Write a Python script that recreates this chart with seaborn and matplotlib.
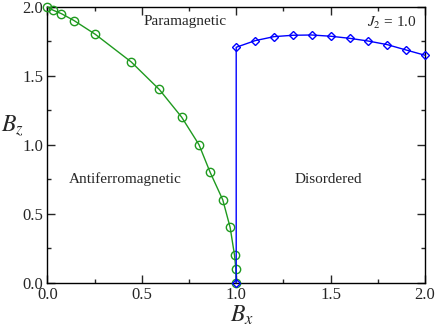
import numpy as np
import pandas as pd
import matplotlib
matplotlib.use("Agg")
import matplotlib.pyplot as plt
import seaborn as sns
from matplotlib.ticker import MultipleLocator

# antiferromagnetic / paramagnetic boundary (green)
afm_bx = [0.0, 0.030, 0.074, 0.141, 0.254, 0.444, 0.593, 0.711, 0.803, 0.862, 0.929, 0.968, 0.991, 0.998, 1.0]
afm_bz = [2.0, 1.975, 1.95, 1.9, 1.8, 1.6, 1.4, 1.2, 1.0, 0.8, 0.6, 0.4, 0.2, 0.1, 0.0]

# disordered / paramagnetic boundary (blue)
dis_bx = [1.0, 1.0, 1.1, 1.2, 1.3, 1.4, 1.5, 1.6, 1.7, 1.8, 1.9, 2.0]
dis_bz = [0.0, 1.706, 1.754, 1.783, 1.793, 1.795, 1.786, 1.771, 1.751, 1.725, 1.686, 1.648]

sns.set_style("ticks")
plt.rcParams['font.family'] = ['Liberation Serif', 'DejaVu Serif']
plt.rcParams['mathtext.fontset'] = 'stix'

afm = pd.DataFrame({'Bx': afm_bx, 'Bz': afm_bz})
dis = pd.DataFrame({'Bx': dis_bx, 'Bz': dis_bz})

fig = plt.figure(figsize=(4.36, 3.27), dpi=100)
ax = fig.add_subplot(111)
fig.subplots_adjust(left=0.1085, right=0.975, top=0.9795, bottom=0.1355)

sns.lineplot(data=afm, x='Bx', y='Bz', ax=ax, sort=False, estimator=None,
             color='#1f9a1f', linewidth=1.0, marker='o', markersize=6,
             markerfacecolor='none', markeredgecolor='#1f9a1f', markeredgewidth=1.0,
             clip_on=False, zorder=3)
sns.lineplot(data=dis, x='Bx', y='Bz', ax=ax, sort=False, estimator=None,
             color='#0000ff', linewidth=1.0, marker='D', markersize=4,
             markerfacecolor='none', markeredgecolor='#0000ff', markeredgewidth=1.0,
             clip_on=False, zorder=3)

ax.set_xlim(0, 2.0)
ax.set_ylim(0, 2.0)
ax.xaxis.set_major_locator(MultipleLocator(0.5))
ax.xaxis.set_minor_locator(MultipleLocator(0.25))
ax.yaxis.set_major_locator(MultipleLocator(0.5))
ax.yaxis.set_minor_locator(MultipleLocator(0.25))
ax.tick_params(which='both', direction='in', top=True, right=True, labelsize=12, pad=3)
ax.tick_params(which='major', length=6, width=1)
ax.tick_params(which='minor', length=3, width=1)
for s in ax.spines.values():
    s.set_linewidth(1.0)
    s.set_color('black')

ax.set_xlabel('$B_x$', fontsize=17)
ax.set_ylabel('$B_z$', fontsize=17, rotation=0)
ax.xaxis.set_label_coords(0.515, -0.077)
ax.yaxis.set_label_coords(-0.092, 0.52)

ax.text(0.729, 1.89, 'Paramagnetic', fontsize=11, ha='center', va='center')
ax.text(0.411, 0.749, 'Antiferromagnetic', fontsize=11, ha='center', va='center')
ax.text(1.485, 0.749, 'Disordered', fontsize=11, ha='center', va='center')
ax.text(0.978, 0.94, '$J_2$ = 1.0', fontsize=11, ha='right', va='center', transform=ax.transAxes)

fig.savefig('out.png', dpi=100)
